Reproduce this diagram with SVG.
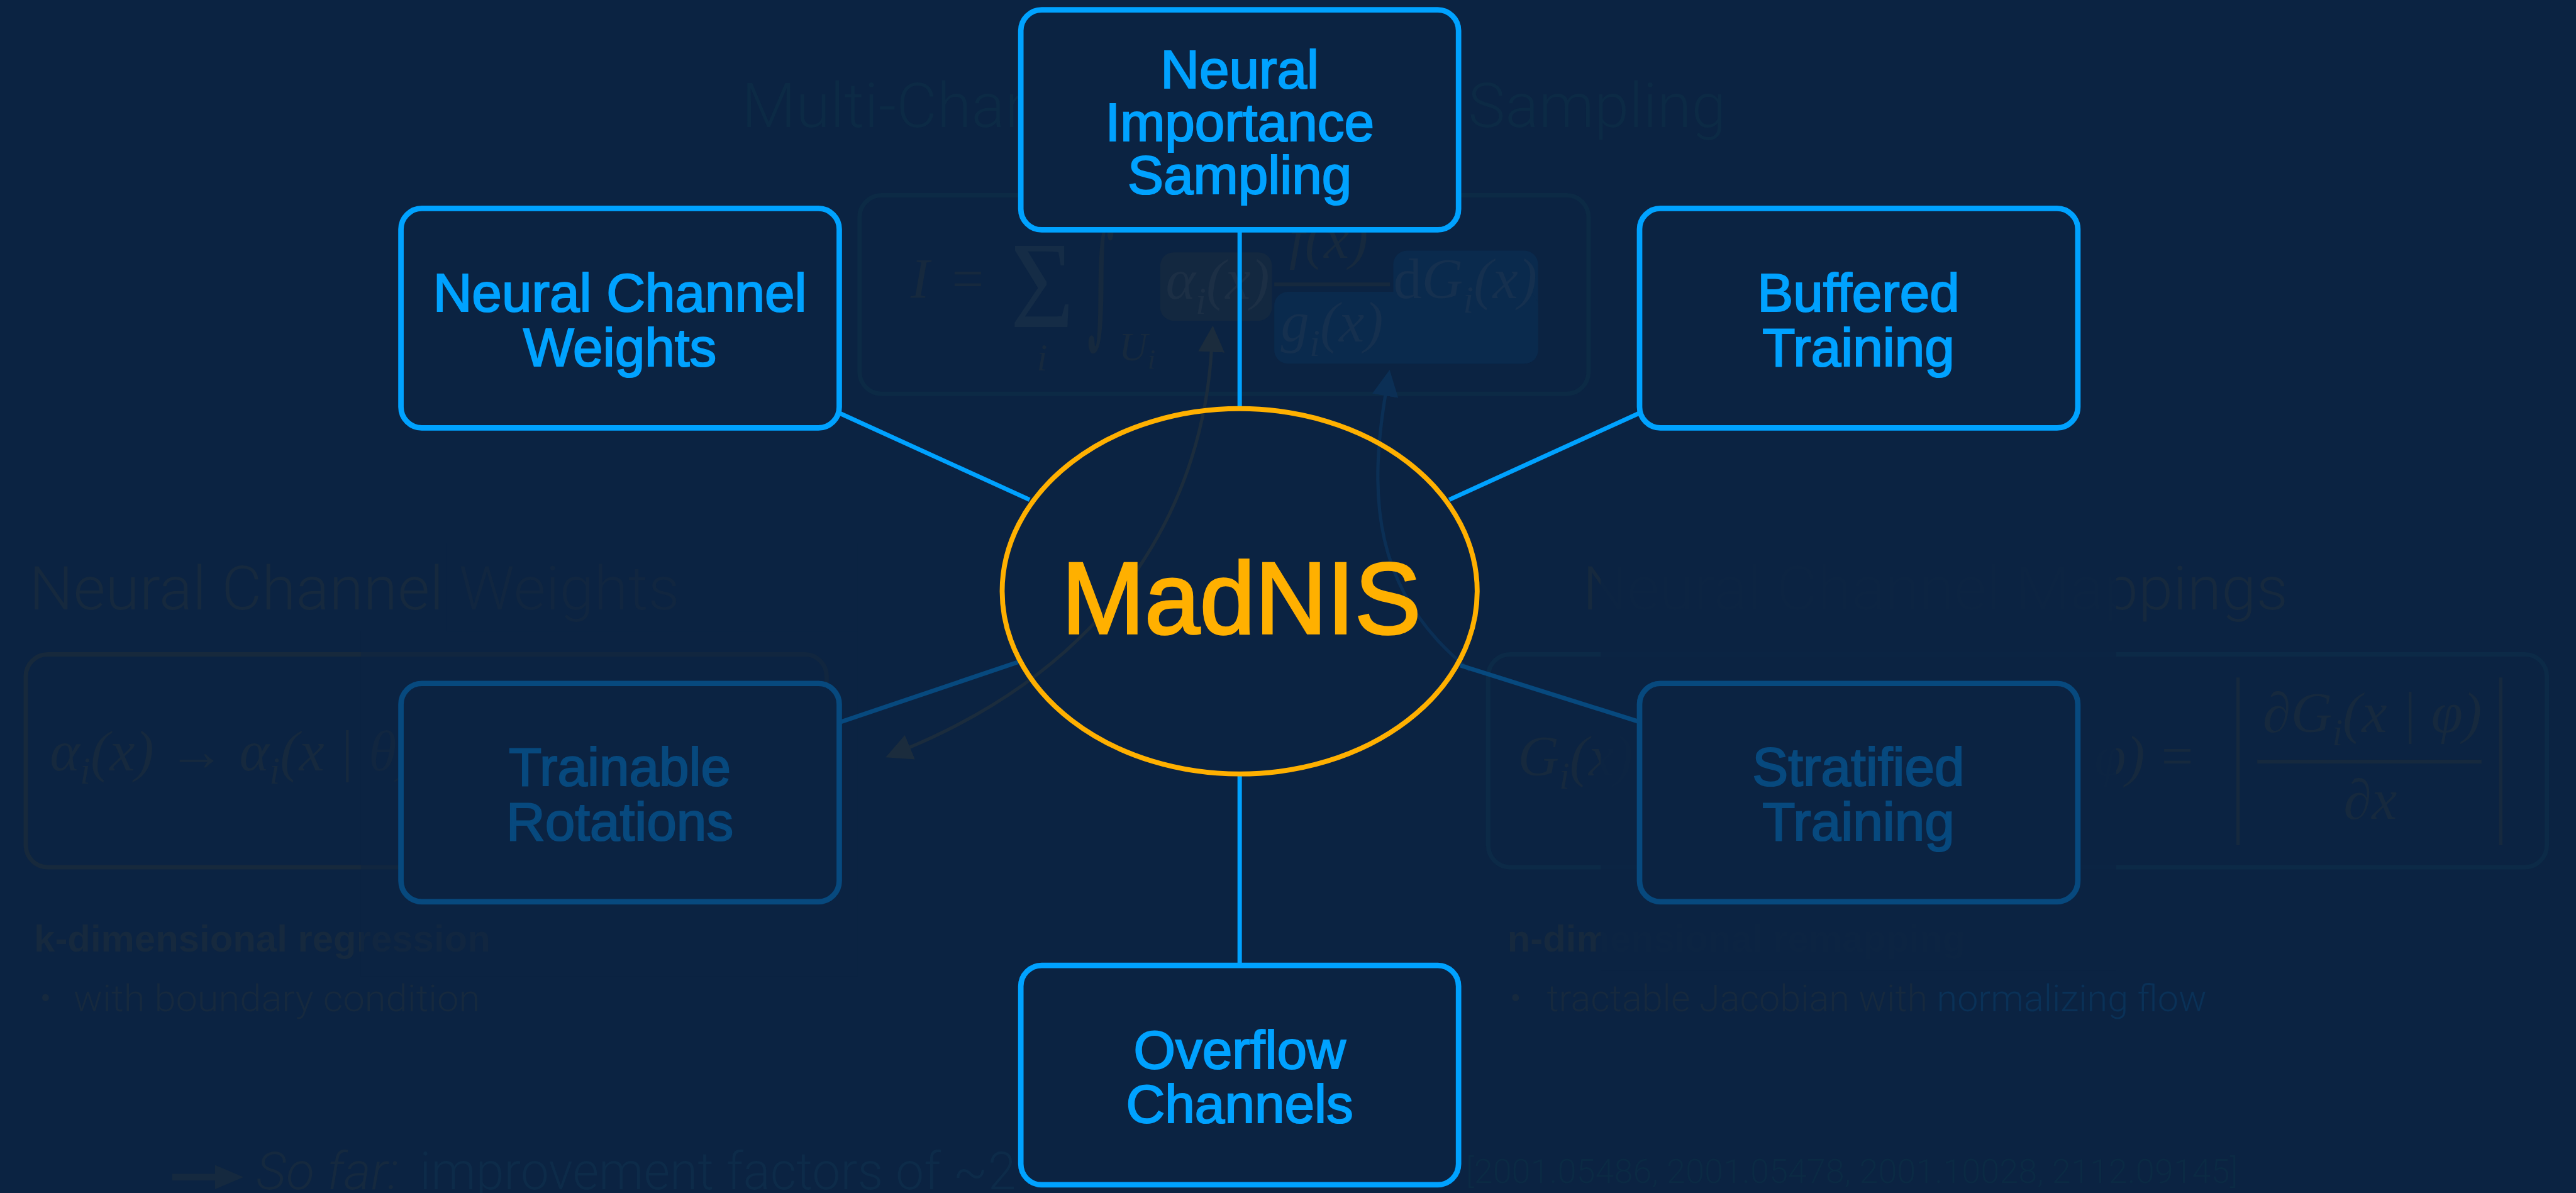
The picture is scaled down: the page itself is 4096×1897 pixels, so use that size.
<svg xmlns="http://www.w3.org/2000/svg" width="4096" height="1897" viewBox="0 0 4096 1897">
<style>
.node rect{fill:#0B2342;stroke:#00A2FF;stroke-width:10}
.node text{font-family:"Liberation Sans",Arial,sans-serif;font-size:98px;fill:#00A2FF;stroke:#00A2FF;stroke-width:2.5;text-anchor:middle}
.node.faded rect{stroke:#07497E}
.node.faded text{fill:#07497E;stroke:#07497E}
.conn{stroke:#00A2FF;stroke-width:8;fill:none}
.conn.faded{stroke:#07497E}
.math{font-family:"Liberation Serif","Times New Roman",serif;font-style:italic;font-size:104px}
.up{font-style:normal}
.bg{font-family:Roboto,"Liberation Sans",Arial,sans-serif;font-weight:300}
.grey{fill:#16293E}
.teal{fill:#0C2A45}
</style>
<defs>
<marker id="ahGrey" viewBox="0 0 10 10" refX="2" refY="5" markerWidth="8" markerHeight="8" orient="auto-start-reverse" markerUnits="strokeWidth"><path d="M0,0 L10,5 L0,10 z" fill="#1B2C3D"/></marker>
<marker id="ahBlue" viewBox="0 0 10 10" refX="2" refY="5" markerWidth="8" markerHeight="8" orient="auto-start-reverse" markerUnits="strokeWidth"><path d="M0,0 L10,5 L0,10 z" fill="#0B2F55"/></marker>
</defs>
<rect width="4096" height="1897" fill="#0B2342"/>
<g transform="scale(0.8722)">
<g id="background-slide">
<text class="bg teal" x="1352" y="232" font-size="112" textLength="1795" lengthAdjust="spacingAndGlyphs">Multi-Channel Importance Sampling</text>
<rect x="1567" y="356" width="1329" height="362" rx="40" fill="none" stroke="#0C2A45" stroke-width="8"/>
<rect x="2115" y="460" width="204" height="125" rx="25" fill="#132840"/>
<rect x="2540" y="457" width="264" height="206" rx="25" fill="#0A2A4D"/>
<rect x="2323" y="532" width="481" height="131" rx="25" fill="#0A2A4D"/>
<g class="math grey">
<text x="1660" y="543">I</text>
<text class="up" x="1735" y="543">=</text>
<text class="up" x="1842" y="596" font-size="225" textLength="116" lengthAdjust="spacingAndGlyphs" fill="#152C46">Σ</text>
<text x="1890" y="675" font-size="70">i</text>
<text class="up" x="1982" y="598" font-size="255" font-family="'DejaVu Serif',serif" textLength="50" lengthAdjust="spacingAndGlyphs">∫</text>
<text x="2040" y="657" font-size="72">U<tspan font-size="50" dy="15">i</tspan></text>
<text x="2125" y="545" fill="#1C2F45">α<tspan font-size="70" dy="27">i</tspan><tspan dy="-27">(x)</tspan></text>
<text x="2350" y="470">f(x)</text>
<rect x="2323" y="515" width="211" height="7" fill="#16293E"/>
<text x="2335" y="622" fill="#15304F">g<tspan font-size="70" dy="27">i</tspan><tspan dy="-27">(x)</tspan></text>
<text x="2540" y="543" fill="#15304F"><tspan class="up">d</tspan>G<tspan font-size="70" dy="27">i</tspan><tspan dy="-27">(x)</tspan></text>
</g>
<path d="M2209 632 C2195 900 2050 1200 1650 1366" fill="none" stroke="#1B2C3D" stroke-width="6" marker-start="url(#ahGrey)" marker-end="url(#ahGrey)"/>
<path d="M2527 712 C2495 900 2500 1080 2680 1222" fill="none" stroke="#0B2F55" stroke-width="6" marker-start="url(#ahBlue)"/>
<text class="bg grey" x="53" y="1111" font-size="110" textLength="1186" lengthAdjust="spacingAndGlyphs">Neural Channel Weights</text>
<rect x="47" y="1193" width="1460" height="388" rx="40" fill="none" stroke="#17293C" stroke-width="8"/>
<text class="math grey" x="91" y="1405">α<tspan font-size="70" dy="24">i</tspan><tspan dy="-24">(x) → α</tspan><tspan font-size="70" dy="24">i</tspan><tspan dy="-24">(x | θ)</tspan></text>
<text class="grey" x="62" y="1735" font-family="'Liberation Sans',Arial,sans-serif" font-weight="bold" font-size="68" textLength="832" lengthAdjust="spacingAndGlyphs">k-dimensional regression</text>
<text class="bg grey" x="72" y="1844" font-size="68">•</text>
<text class="bg grey" x="134" y="1844" font-size="68" textLength="741" lengthAdjust="spacingAndGlyphs">with boundary condition</text>
<text class="bg grey" x="2885" y="1111" font-size="110" textLength="1286" lengthAdjust="spacingAndGlyphs">Neural Channel Mappings</text>
<rect x="2713" y="1193" width="1930" height="388" rx="40" fill="none" stroke="#0C2A47" stroke-width="8"/>
<g class="math grey">
<text x="2767" y="1414">G<tspan font-size="70" dy="24">i</tspan><tspan dy="-24">(x)</tspan></text>
<text x="3818" y="1414">φ)<tspan class="up" dx="30">=</tspan></text>
<rect x="4077" y="1235" width="6" height="306" fill="#16293E"/>
<rect x="4556" y="1235" width="6" height="306" fill="#16293E"/>
<text x="4125" y="1335"><tspan class="up">∂</tspan>G<tspan font-size="70" dy="24">i</tspan><tspan dy="-24">(x | φ)</tspan></text>
<rect x="4115" y="1385" width="409" height="7" fill="#16293E"/>
<text x="4321" y="1493" text-anchor="middle"><tspan class="up">∂</tspan>x</text>
</g>
<text class="grey" x="2748" y="1735" font-family="'Liberation Sans',Arial,sans-serif" font-weight="bold" font-size="68" textLength="835" lengthAdjust="spacingAndGlyphs">n-dimensional remapping</text>
<text class="bg grey" x="2752" y="1844" font-size="68">•</text>
<text class="bg" x="2820" y="1844" font-size="68"><tspan fill="#16293E">tractable Jacobian with </tspan><tspan fill="#0A3157">normalizing flow</tspan></text>
<rect x="813" y="990" width="750" height="160" fill="#0B2342" opacity="0.45"/>
<rect x="658" y="1150" width="905" height="630" fill="#0B2342" opacity="0.45"/>
<rect x="2918" y="990" width="940" height="780" fill="#0B2342" opacity="0.9"/>
<polygon points="314,2140 392,2140 392,2124 444,2146 392,2168 392,2152 314,2152" fill="#15293F"/>
<text class="bg" x="467" y="2168" font-size="95" font-style="italic" fill="#15293F">So far:</text>
<text class="bg" x="765" y="2168" font-size="95" fill="#0D2B49" textLength="1087" lengthAdjust="spacingAndGlyphs">improvement factors of ~2</text>
<text class="bg" x="4080" y="2157" font-size="62" fill="#0B2A44" text-anchor="end">[2001.05486, 2001.05478, 2001.10028, 2112.09145]</text>
</g>
<g id="connectors">
<line class="conn" x1="2260" y1="419" x2="2260" y2="745"/>
<line class="conn" x1="2260" y1="1411" x2="2260" y2="1760"/>
<line class="conn" x1="1530" y1="753" x2="1877" y2="911"/>
<line class="conn" x1="2642" y1="911" x2="2989" y2="753"/>
<line class="conn faded" x1="1856" y1="1207" x2="1530" y2="1317"/>
<line class="conn faded" x1="2662" y1="1213" x2="2989" y2="1316"/>
</g>
<g id="node-nis" class="node"><rect x="1861" y="18" width="798" height="401" rx="38"/><text x="2260" y="160">Neural</text><text x="2260" y="257">Importance</text><text x="2260" y="353">Sampling</text></g>
<g id="node-ncw" class="node"><rect x="731" y="380" width="799" height="400" rx="38"/><text x="1130" y="568">Neural Channel</text><text x="1130" y="667">Weights</text></g>
<g id="node-buffered" class="node"><rect x="2989" y="380" width="799" height="400" rx="38"/><text x="3388" y="568">Buffered</text><text x="3388" y="667">Training</text></g>
<g id="node-rotations" class="node faded"><rect x="731" y="1246" width="799" height="398" rx="38"/><text x="1130" y="1432">Trainable</text><text x="1130" y="1532">Rotations</text></g>
<g id="node-stratified" class="node faded"><rect x="2989" y="1246" width="799" height="398" rx="38"/><text x="3388" y="1432">Stratified</text><text x="3388" y="1532">Training</text></g>
<g id="node-overflow" class="node"><rect x="1861" y="1760" width="798" height="400" rx="38"/><text x="2260" y="1948">Overflow</text><text x="2260" y="2047">Channels</text></g>
<g id="node-madnis"><ellipse cx="2260" cy="1078" rx="433" ry="333" fill="none" stroke="#FFB000" stroke-width="9"/><text x="2263" y="1155" font-family="'Liberation Sans',Arial,sans-serif" font-size="186" fill="#FFB000" stroke="#FFB000" stroke-width="4" text-anchor="middle" textLength="655" lengthAdjust="spacingAndGlyphs">MadNIS</text></g>
</g>
</svg>
